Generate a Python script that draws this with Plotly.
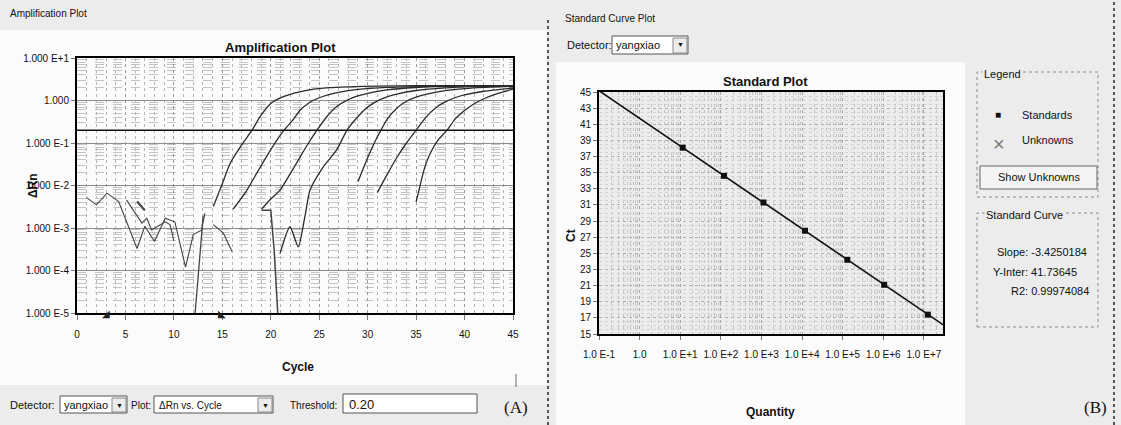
import math
import plotly.graph_objects as go

W, H = 1121, 425
FONT = "Liberation Sans, Arial, sans-serif"

# ---------------- Amplification plot data (cycle, delta Rn) ----------------
c1_cycle = [14.07, 15, 15.8, 17, 18.06, 19, 20, 21, 22, 23, 24, 26, 28, 31, 35, 40, 45]
c1_drn = [0.0032, 0.011, 0.033, 0.09, 0.20, 0.45, 0.85, 1.15, 1.4, 1.6, 1.78, 2.0, 2.1, 2.19, 2.24, 2.25, 2.25]

c2_cycle = [16.13, 17.5, 18.55, 20, 21.36, 22.3, 23, 24, 25, 26, 27, 29, 32, 36, 40, 45]
c2_drn = [0.0028, 0.0075, 0.0195, 0.07, 0.20, 0.35, 0.58, 0.9, 1.16, 1.38, 1.56, 1.82, 2.03, 2.16, 2.22, 2.25]

c3_cycle = [19.06, 20.0, 20.95, 22.6, 23.7, 24.77, 25.8, 26.8, 28, 29, 30, 32, 35, 38, 42, 45]
c3_drn = [0.0028, 0.0048, 0.0078, 0.032, 0.085, 0.20, 0.42, 0.72, 1.05, 1.28, 1.48, 1.78, 2.02, 2.14, 2.2, 2.23]

c4_cycle = [20.95, 21.98, 22.84, 23.53, 24.05, 25.42, 26.8, 27.87, 29, 30, 31, 32, 33, 35, 38, 41, 45]
c4_drn = [0.00025, 0.00107, 0.00036, 0.0019, 0.0078, 0.0275, 0.069, 0.20, 0.42, 0.7, 0.98, 1.22, 1.42, 1.72, 1.98, 2.12, 2.2]

c5_cycle = [29.0, 30, 31, 31.37, 32, 33, 34, 35, 36, 38, 40, 42, 45]
c5_drn = [0.0123, 0.045, 0.14, 0.20, 0.36, 0.66, 0.96, 1.2, 1.4, 1.7, 1.9, 2.03, 2.15]

c6_cycle = [31.0, 32, 33, 34, 35.0, 36, 37, 38, 39, 40, 42, 45]
c6_drn = [0.0068, 0.018, 0.045, 0.1, 0.20, 0.4, 0.67, 0.93, 1.16, 1.35, 1.65, 1.97]

c7_cycle = [35.0, 35.9, 36.5, 37.3, 38.19, 39, 40, 41, 42, 43, 44, 45]
c7_drn = [0.0041, 0.027, 0.06, 0.12, 0.20, 0.36, 0.58, 0.84, 1.1, 1.35, 1.6, 1.85]

noiseA_cycle = [1.0, 2.0, 3.1, 4.3, 6.2, 7.0, 8.0, 9.1, 10.1, 11.2, 12.0, 12.9, 13.0]
noiseA_drn = [0.0052, 0.0035, 0.0066, 0.0042, 0.00033, 0.0011, 0.00048, 0.0017, 0.0014, 0.00012, 0.0007, 0.0009, 0.0019]

noiseB_cycle = [5.1, 6.7, 7.2, 7.7, 9.1, 9.6, 10.0]
noiseB_drn = [0.0046, 0.0013, 0.0017, 0.0009, 0.0014, 0.0012, 0.0005]

noiseC_cycle = [6.2, 7.0]
noiseC_drn = [0.0042, 0.0026]

rise_cycle = [12.0, 12.95, 13.2]
rise_drn = [0.000003, 0.0012, 0.0022]

noiseD_cycle = [14.07, 15.1, 16.0]
noiseD_drn = [0.0012, 0.00076, 0.00028]

drop_cycle = [19.06, 20.0, 20.35, 20.85]
drop_drn = [0.0026, 0.0026, 0.0003, 0.000003]

threshold = 0.20
baseline_marks = [3, 15]

amp_ytickvals = [1e-5, 1e-4, 1e-3, 1e-2, 1e-1, 1, 10]
amp_yticktext = ["1.000 E-5", "1.000 E-4", "1.000 E-3", "1.000 E-2", "1.000 E-1", "1.000", "1.000 E+1"]
amp_xticks = [0, 5, 10, 15, 20, 25, 30, 35, 40, 45]

# ---------------- Standard curve data ----------------
std_quantity = [1.15e1, 1.2e2, 1.12e3, 1.18e4, 1.3e5, 1.05e6, 1.25e7]
std_ct = [38.1, 34.6, 31.3, 27.8, 24.2, 21.1, 17.4]
slope = -3.4250184
y_inter = 41.73645
r2 = 0.99974084
q_range = [0.1, 10 ** 7.47]

std_xtickvals = [1e-1, 1, 1e1, 1e2, 1e3, 1e4, 1e5, 1e6, 1e7]
std_xticktext = ["1.0 E-1", "1.0", "1.0 E+1", "1.0 E+2", "1.0 E+3", "1.0 E+4", "1.0 E+5", "1.0 E+6", "1.0 E+7"]
std_ytickvals = list(range(15, 46, 2))

# ---------------- helpers ----------------
def px(x):
    return x / W

def py(y):
    return 1 - y / H

fig = go.Figure()

curve_color = "#2b2b2b"
for cx, cy in [(c1_cycle, c1_drn), (c2_cycle, c2_drn), (c3_cycle, c3_drn), (c4_cycle, c4_drn),
               (c5_cycle, c5_drn), (c6_cycle, c6_drn), (c7_cycle, c7_drn)]:
    fig.add_trace(go.Scatter(x=cx, y=cy, mode="lines", line=dict(color=curve_color, width=1.3, shape="spline", smoothing=0.6),
                             xaxis="x", yaxis="y", showlegend=False, hoverinfo="skip"))
for cx, cy, w in [(noiseA_cycle, noiseA_drn, 1.1), (noiseB_cycle, noiseB_drn, 1.1), (noiseC_cycle, noiseC_drn, 2.2),
                  (rise_cycle, rise_drn, 1.3), (noiseD_cycle, noiseD_drn, 1.1), (drop_cycle, drop_drn, 1.5)]:
    fig.add_trace(go.Scatter(x=cx, y=cy, mode="lines", line=dict(color="#444444", width=w),
                             xaxis="x", yaxis="y", showlegend=False, hoverinfo="skip"))

fig.add_trace(go.Scatter(x=[0, 45], y=[threshold, threshold], mode="lines", line=dict(color="#111111", width=1.6),
                         xaxis="x", yaxis="y", showlegend=False, hoverinfo="skip"))

# standard curve (fitted line from slope / intercept)
fit_ct = [y_inter + slope * math.log10(q) for q in q_range]
fig.add_trace(go.Scatter(x=q_range, y=fit_ct, mode="lines", line=dict(color="#111111", width=1.6),
                         xaxis="x2", yaxis="y2", showlegend=False, hoverinfo="skip"))
fig.add_trace(go.Scatter(x=std_quantity, y=std_ct, mode="markers", marker=dict(symbol="square", size=6, color="#111111"),
                         xaxis="x2", yaxis="y2", showlegend=False, hoverinfo="skip"))

tickfont = dict(family=FONT, size=10, color="#111111")
fig.update_layout(
    template="none",
    width=W, height=H, autosize=False, margin=dict(l=0, r=0, t=0, b=0, pad=0, autoexpand=False),
    paper_bgcolor="#ececec", plot_bgcolor="#ffffff", showlegend=False,
    font=dict(family=FONT, color="#111111"),
    xaxis=dict(domain=[px(77), px(513)], range=[0, 45], anchor="y", tickvals=amp_xticks, tickangle=0, automargin=False,
               showgrid=True, gridcolor="#9a9a9a", griddash="dot", gridwidth=1,
               minor=dict(dtick=1, showgrid=True, gridcolor="#b4b4b4", griddash="dot", ticklen=0),
               showline=True, linecolor="#000000", linewidth=2, mirror=True,
               ticks="outside", ticklen=5, tickcolor="#777777", tickfont=tickfont, ticklabelstandoff=6, zeroline=False),
    yaxis=dict(domain=[py(313), py(58)], type="log", range=[-5, 1], anchor="x", automargin=False,
               tickvals=amp_ytickvals, ticktext=amp_yticktext,
               showgrid=True, gridcolor="#8c8c8c", gridwidth=1,
               minor=dict(dtick="D1", showgrid=True, gridcolor="#c4c4c4", griddash="dash", ticklen=0),
               showline=True, linecolor="#000000", linewidth=2, mirror=True,
               ticks="outside", ticklen=4, tickcolor="#777777", tickfont=tickfont, zeroline=False),
    xaxis2=dict(domain=[px(599), px(943)], type="log", range=[-1, 7.47], anchor="y2", tickangle=0, automargin=False,
                tickvals=std_xtickvals, ticktext=std_xticktext,
                showgrid=True, gridcolor="#a8a8a8", griddash="dot",
                minor=dict(dtick="D1", showgrid=True, gridcolor="#c4c4c4", griddash="dot", ticklen=0),
                showline=True, linecolor="#000000", linewidth=2, mirror=True,
                ticks="outside", ticklen=4, tickcolor="#777777", tickfont=tickfont, ticklabelstandoff=6, zeroline=False),
    yaxis2=dict(domain=[py(334), py(92)], range=[15, 45], anchor="x2", automargin=False,
                tickvals=std_ytickvals, showgrid=True, gridcolor="#b0b0b0", griddash="dot",
                minor=dict(dtick=0.5, showgrid=True, gridcolor="#d2d2d2", griddash="dot", ticklen=0),
                showline=True, linecolor="#000000", linewidth=2, mirror=True,
                ticks="outside", ticklen=4, tickcolor="#777777", tickfont=tickfont, zeroline=False),
)

shapes = []
# panel backgrounds
shapes.append(dict(type="rect", xref="paper", yref="paper", x0=px(0), x1=px(547), y0=py(385), y1=py(30),
                   fillcolor="#fbfbfb", line=dict(width=0), layer="below"))
shapes.append(dict(type="rect", xref="paper", yref="paper", x0=px(556), x1=px(965), y0=py(425), y1=py(62),
                   fillcolor="#fbfbfb", line=dict(width=0), layer="below"))
# standard plot area shading
shapes.append(dict(type="rect", xref="x2 domain", yref="y2 domain", x0=0, x1=1, y0=0, y1=1,
                   fillcolor="#ececec", line=dict(width=0), layer="below"))
# separators
shapes.append(dict(type="line", xref="paper", yref="paper", x0=px(548), x1=px(548), y0=py(425), y1=py(20),
                   line=dict(color="#555555", width=2, dash="dot")))
shapes.append(dict(type="line", xref="paper", yref="paper", x0=px(1114), x1=px(1114), y0=py(425), y1=py(0),
                   line=dict(color="#555555", width=2, dash="dot")))
shapes.append(dict(type="line", xref="paper", yref="paper", x0=px(516), x1=px(516), y0=py(387), y1=py(374),
                   line=dict(color="#666666", width=1)))

def box(x0, y0, x1, y1, fill="#ffffff", color="#555555", width=1, dash="solid"):
    shapes.append(dict(type="rect", xref="paper", yref="paper", x0=px(x0), x1=px(x1), y0=py(y1), y1=py(y0),
                       fillcolor=fill, line=dict(color=color, width=width, dash=dash)))

# bottom-left controls
box(60, 396, 127, 413)
box(112, 398, 126, 412, fill="#ececec", color="#888888")
box(154, 396, 273, 413)
box(258, 398, 272, 412, fill="#ececec", color="#888888")
box(343, 394, 477, 413)
# top-right detector box
box(612, 36, 688, 54)
box(673, 38, 687, 53, fill="#ececec", color="#888888")
# legend boxes
box(977, 72, 1098, 197, fill="rgba(0,0,0,0)", color="#8a8a8a", dash="dot")
box(980, 166, 1097, 189, fill="#f4f4f4", color="#666666")
box(977, 213, 1098, 327, fill="rgba(0,0,0,0)", color="#8a8a8a", dash="dot")
fig.update_layout(shapes=shapes)

ann = []
def text(x, y, s, size=11, bold=False, anchor="center", family=FONT, angle=0, color="#111111", bg=None):
    d = dict(xref="paper", yref="paper", x=px(x), y=py(y), text=("<b>%s</b>" % s) if bold else s,
             showarrow=False, xanchor=anchor, yanchor="middle", textangle=angle,
             font=dict(family=family, size=size, color=color))
    if bg:
        d["bgcolor"] = bg
    ann.append(d)

text(8, 13, "Amplification Plot", size=10, anchor="left")
text(280, 47, "Amplification Plot", size=13, bold=True)
text(33, 186, "ΔRn", size=12, bold=True, angle=-90)
text(298, 367, "Cycle", size=12, bold=True)
text(8, 405, "Detector:", size=11, anchor="left")
text(62, 405, "yangxiao", size=11, anchor="left")
text(119, 405, "▼", size=7)
text(129, 405, "Plot:", size=10, anchor="left")
text(157, 405, "ΔRn vs. Cycle", size=10, anchor="left")
text(265, 405, "▼", size=7)
text(288, 405, "Threshold:", size=10, anchor="left")
text(347, 404, "0.20", size=13, anchor="left")
text(516, 407, "(A)", size=17, family="Liberation Serif, DejaVu Serif, serif")

text(563, 18, "Standard Curve Plot", size=10, anchor="left")
text(565, 45, "Detector:", size=11, anchor="left")
text(614, 45, "yangxiao", size=11, anchor="left")
text(680, 45, "▼", size=7)
text(765, 82, "Standard Plot", size=13, bold=True)
text(571, 236, "Ct", size=12, bold=True, angle=-90)
text(770, 412, "Quantity", size=12, bold=True)
text(1095, 407, "(B)", size=17, family="Liberation Serif, DejaVu Serif, serif")

text(982, 74, "Legend", size=11, anchor="left", bg="#ececec")
text(998, 115, "■", size=10)
text(1020, 115, "Standards", size=11, anchor="left")
text(999, 144, "×", size=20, color="#777777")
text(1020, 140, "Unknowns", size=11, anchor="left")
text(1039, 177, "Show Unknowns", size=11)
text(984, 215, "Standard Curve", size=11, anchor="left", bg="#ececec")
text(1089, 252, "Slope: %.7f" % slope, size=11, anchor="right")
text(1079, 272, "Y-Inter: %.5f" % y_inter, size=11, anchor="right")
text(1091, 291, "R2: %.8f" % r2, size=11, anchor="right")

for m in baseline_marks:
    ann.append(dict(xref="x", yref="paper", x=m, y=py(321), text="◢" if m == baseline_marks[0] else "◣",
                    showarrow=False, font=dict(size=10, color="#222222")))

fig.update_layout(annotations=ann)

page_css = ("document.body.style.margin='0';document.body.style.padding='0';"
            "document.body.style.overflow='hidden';document.documentElement.style.overflow='hidden';")
fig.write_html("out.html", post_script=page_css, config={"displayModeBar": False})
